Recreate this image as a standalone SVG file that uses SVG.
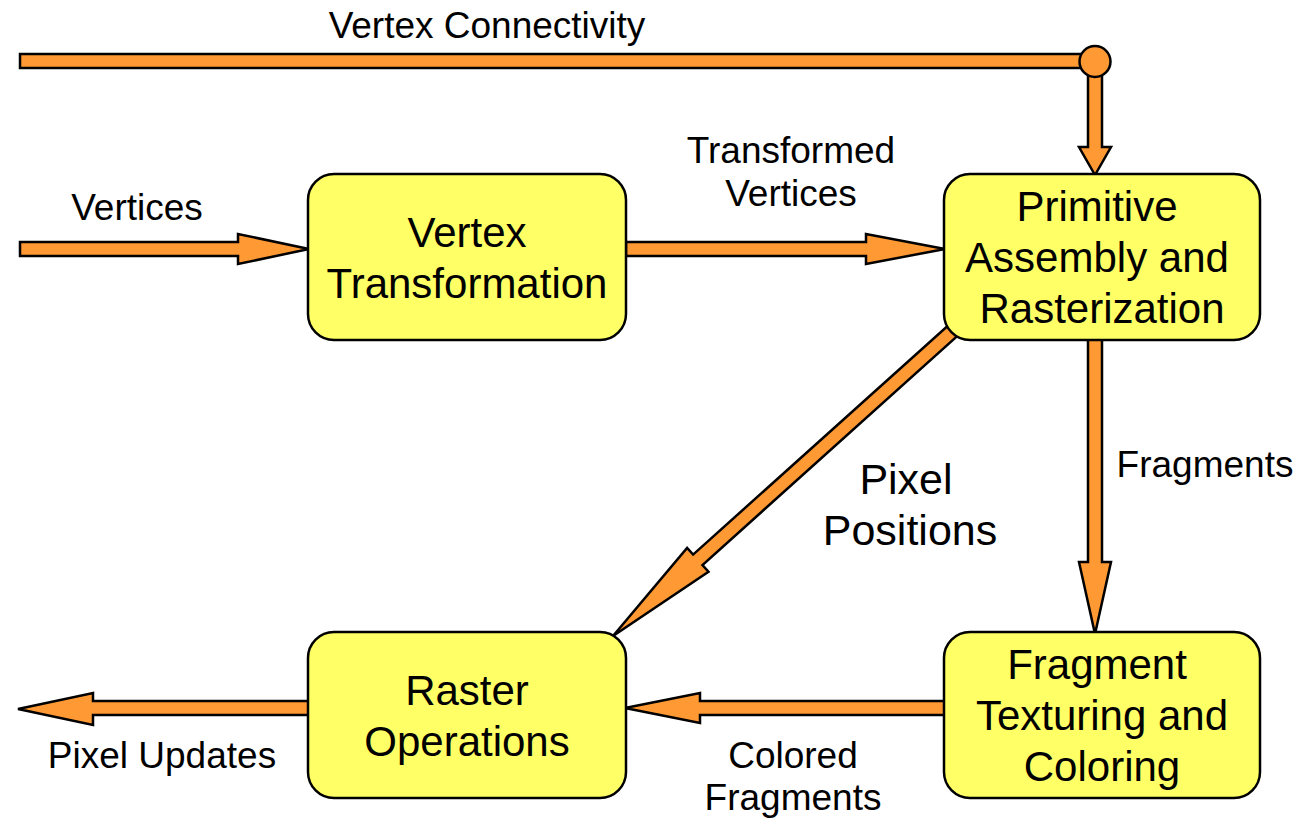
<svg xmlns="http://www.w3.org/2000/svg" width="1298" height="821" viewBox="0 0 1298 821">
<style>
.arrow{fill:#ff9933;stroke:#000;stroke-width:2.5;stroke-linejoin:miter}
.node rect{fill:#ffff66;stroke:#000;stroke-width:2.5}
text{font-family:"Liberation Sans",Arial,sans-serif;fill:#000;text-anchor:middle}
.nt{font-size:42px}
.pp{font-size:43px}
.lt{font-size:37px}
</style>
<rect width="1298" height="821" fill="#fff"/>
<g id="connectors">
  <!-- Vertex Connectivity -->
  <polygon class="arrow" points="20,54 1095,54 1095,68 20,68"/>
  <polygon class="arrow" points="1088,61 1102,61 1102,147 1111,147 1095,175 1079,147 1088,147"/>
  <circle class="arrow" cx="1095" cy="61.5" r="15.5"/>
  <!-- Vertices -->
  <polygon class="arrow" points="20,242 238,242 238,234 309,249 238,264 238,256 20,256"/>
  <!-- Transformed Vertices -->
  <polygon class="arrow" points="626,242 866,242 866,234 945,249 866,264 866,256 626,256"/>
  <!-- Fragments -->
  <polygon class="arrow" points="1088,330 1102,330 1102,562 1111,562 1095,634 1079,562 1088,562"/>
  <!-- Colored Fragments -->
  <polygon class="arrow" points="950,701 700,701 700,693 625,708 700,723 700,715 950,715"/>
  <!-- Pixel Updates -->
  <polygon class="arrow" points="318,701 93,701 93,693 18,709 93,725 93,715 318,715"/>
  <!-- Pixel Positions -->
  <polygon class="arrow" transform="translate(613,636) rotate(138.06)" points="-480,-7 -114,-7 -114,-16 0,0 -114,16 -114,7 -480,7"/>
</g>
<g id="vertex-transformation" class="node">
  <rect x="308" y="174" width="318" height="166" rx="26"/>
  <text class="nt" x="467" y="247">Vertex</text>
  <text class="nt" x="467" y="298">Transformation</text>
</g>
<g id="primitive-assembly" class="node">
  <rect x="944" y="174" width="316" height="166" rx="26"/>
  <text class="nt" x="1097" y="221">Primitive</text>
  <text class="nt" x="1097" y="272">Assembly and</text>
  <text class="nt" x="1102" y="323">Rasterization</text>
</g>
<g id="raster-operations" class="node">
  <rect x="308" y="632" width="318" height="166" rx="26"/>
  <text class="nt" x="467" y="705">Raster</text>
  <text class="nt" x="467" y="756">Operations</text>
</g>
<g id="fragment-texturing" class="node">
  <rect x="944" y="632" width="316" height="166" rx="26"/>
  <text class="nt" x="1097" y="679">Fragment</text>
  <text class="nt" x="1102" y="730">Texturing and</text>
  <text class="nt" x="1102" y="781">Coloring</text>
</g>
<g id="labels">
  <text class="lt" x="487" y="38">Vertex Connectivity</text>
  <text class="lt" x="137" y="220">Vertices</text>
  <text class="lt" x="791" y="163">Transformed</text>
  <text class="lt" x="791" y="206">Vertices</text>
  <text class="lt" x="1205" y="477">Fragments</text>
  <text class="pp" x="906" y="494">Pixel</text>
  <text class="pp" x="910" y="545">Positions</text>
  <text class="lt" x="162" y="768">Pixel Updates</text>
  <text class="lt" x="793" y="768">Colored</text>
  <text class="lt" x="793" y="810">Fragments</text>
</g>
</svg>
